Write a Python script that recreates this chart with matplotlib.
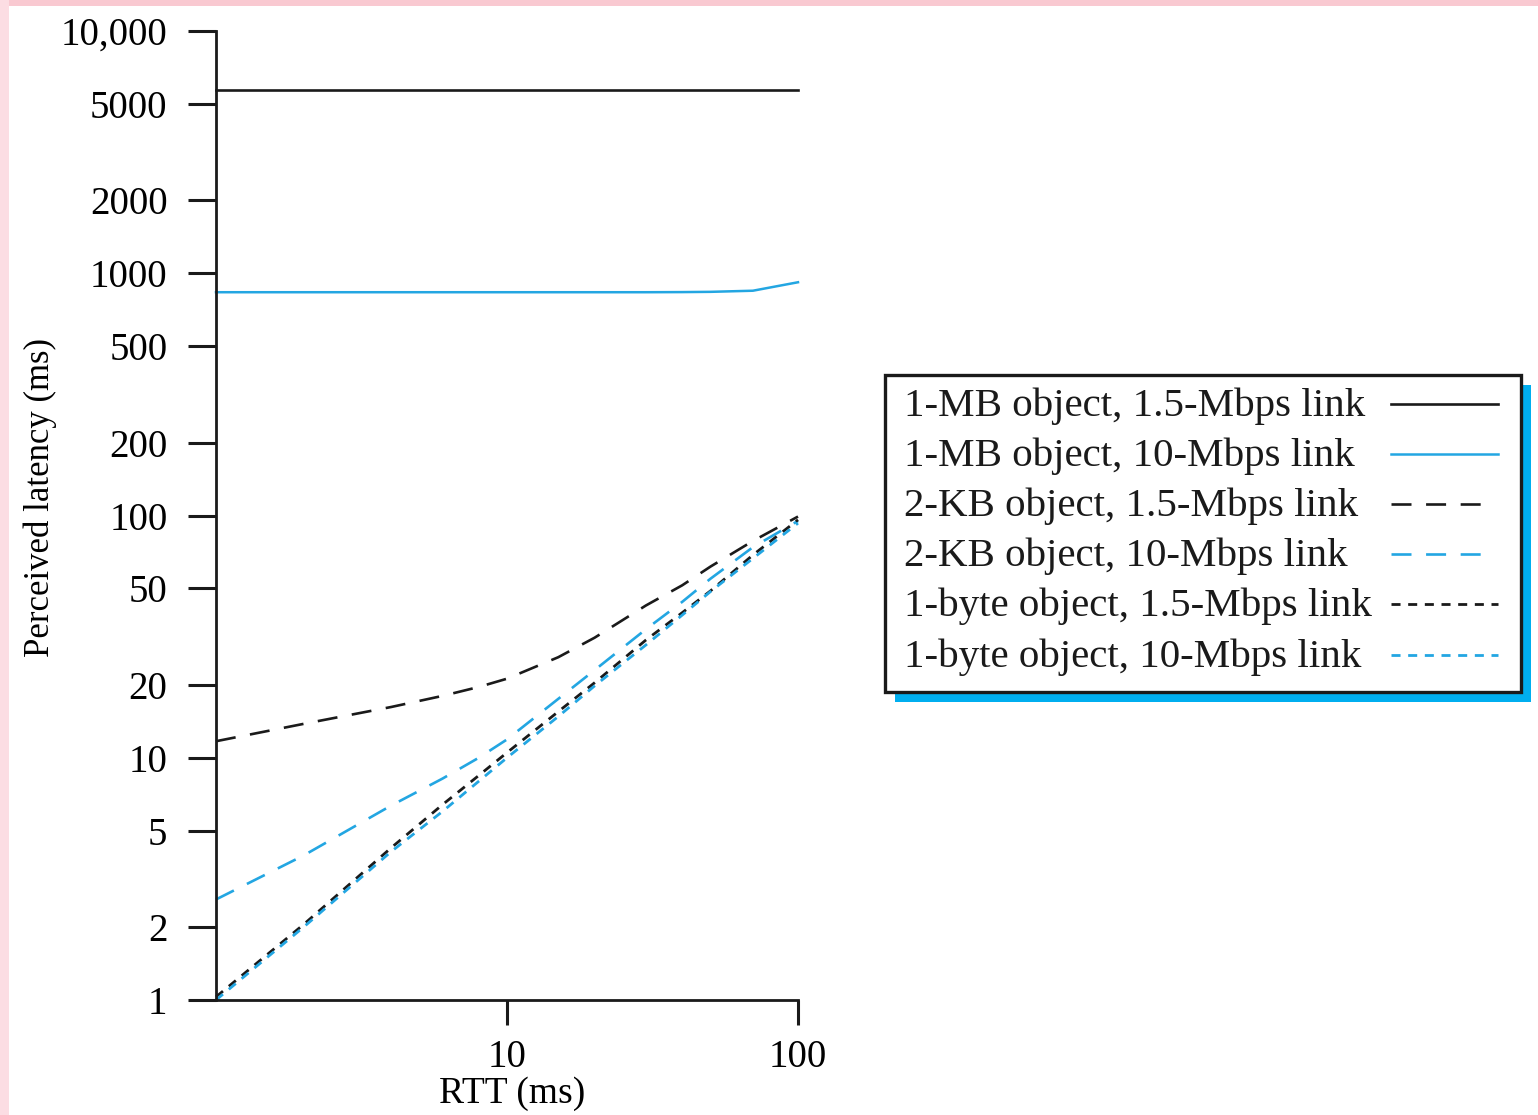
import matplotlib.pyplot as plt
from matplotlib.lines import Line2D
from matplotlib.patches import Rectangle
from matplotlib.ticker import NullLocator

# DATA
rtt = [1, 2, 4, 6, 8, 10, 15, 20, 30, 40, 50, 70, 100]
mb_15 = [5700, 5700, 5700, 5700, 5700, 5700, 5700, 5700, 5700, 5700, 5700, 5700, 5700]
mb_10 = [835, 835, 835, 835, 835, 835, 835, 835, 835, 836, 838, 847, 918]
kb_15 = [11.7, 13.8, 16.2, 18.0, 19.6, 21.2, 26.0, 31.3, 42.5, 51.5, 61.5, 78.5, 99]
kb_10 = [2.6, 3.95, 6.35, 8.2, 10.0, 11.9, 17.5, 23.0, 33.9, 44.0, 54.8, 74.0, 95]
b_15 = [1.03, 2.05, 4.25, 6.4, 8.45, 10.5, 15.5, 20.4, 30.6, 39.7, 48.8, 68.7, 96]
b_10 = [1.0, 2.0, 4.1, 6.0, 8.0, 10.0, 14.8, 19.8, 29.2, 38.8, 48.5, 66.5, 93]

labels = ["1-MB object, 1.5-Mbps link", "1-MB object, 10-Mbps link",
          "2-KB object, 1.5-Mbps link", "2-KB object, 10-Mbps link",
          "1-byte object, 1.5-Mbps link", "1-byte object, 10-Mbps link"]
series = [mb_15, mb_10, kb_15, kb_10, b_15, b_10]

y_ticks = [1, 2, 5, 10, 20, 50, 100, 200, 500, 1000, 2000, 5000, 10000]
y_tick_labels = ["1", "2", "5", "10", "20", "50", "100", "200", "500",
                 "1000", "2000", "5000", "10,000"]
x_ticks = [10, 100]
x_tick_labels = ["10", "100"]

#STYLE
BLACK = "#1a1a1a"
BLUE = "#23a6e2"
solid = "-"
long_dash = (0, (14.4, 10.5))
short_dash = (0, (6.5, 5.5))
colors = [BLACK, BLUE, BLACK, BLUE, BLACK, BLUE]
styles = [solid, solid, long_dash, long_dash, short_dash, short_dash]
widths = [1.9, 1.8, 1.9, 1.9, 2.0, 2.0]
handle_end = [1498, 1498, 1482, 1482, 1498, 1498]

W, H = 1538, 1115
plt.rcParams['font.family'] = ['Liberation Serif', 'DejaVu Serif']
plt.rcParams['lines.scale_dashes'] = False
plt.rcParams['text.color'] = BLACK

fig = plt.figure(figsize=(W / 100, H / 100), dpi=100)

#PINK SLIDE EDGES
fig.add_artist(Rectangle((0, 1 - 6 / H), 1, 6 / H, transform=fig.transFigure,
                         fc="#f9c9d1", ec="none"))
fig.add_artist(Rectangle((0, 0), 9 / W, 1, transform=fig.transFigure,
                         fc="#fcdde3", ec="none"))

ax = fig.add_axes([216 / W, 1 - 1000 / H, (798 - 216) / W, (1000 - 31) / H])
ax.set_facecolor("none")

for vals, c, ls, lw in zip(series, colors, styles, widths):
    ax.plot(rtt, vals, color=c, linestyle=ls, linewidth=lw, clip_on=False)

ax.set_xscale("log")
ax.set_yscale("log")
ax.set_xlim(1, 100)
ax.set_ylim(1, 10000)
ax.set_xticks(x_ticks, x_tick_labels)
ax.set_yticks(y_ticks, y_tick_labels)
ax.xaxis.set_minor_locator(NullLocator())
ax.yaxis.set_minor_locator(NullLocator())
ax.tick_params(axis="y", length=20, width=2.2, pad=15, labelsize=28, color=BLACK)
ax.tick_params(axis="x", length=18, width=2.2, pad=10, labelsize=28, color=BLACK)

for s in ["top", "right"]:
    ax.spines[s].set_visible(False)
for s in ["left", "bottom"]:
    ax.spines[s].set_linewidth(2.0)
    ax.spines[s].set_color(BLACK)

ax.set_xlabel("RTT (ms)", fontsize=27, va="center")
ax.xaxis.set_label_coords((512 - 216) / 582, (1000 - 1094) / 969)
ax.set_ylabel("Perceived latency (ms)", fontsize=25, va="center")
ax.yaxis.set_label_coords((40 - 216) / 582, (1000 - 497) / 969)

#LEGEND (text left, sample line right, blue drop shadow)
bx0, bx1, by0, by1 = 885, 1521, 375, 692
fig.add_artist(Rectangle(((bx0 + 10) / W, 1 - (by1 + 10) / H), (bx1 - bx0) / W,
                         (by1 - by0) / H, transform=fig.transFigure,
                         fc="#00aeef", ec="none"))
fig.add_artist(Rectangle((bx0 / W, 1 - by1 / H), (bx1 - bx0) / W, (by1 - by0) / H,
                         transform=fig.transFigure, fc="white", ec=BLACK, lw=2.4))
row_y = [404, 454, 504, 554, 604, 655]
for lab, c, ls, lw, yy, xe in zip(labels, colors, styles, widths, row_y, handle_end):
    fig.text(904 / W, 1 - (yy + 12) / H, lab, fontsize=29.5, va="baseline", ha="left")
    fig.add_artist(Line2D([1391 / W, xe / W], [1 - yy / H, 1 - yy / H],
                          transform=fig.transFigure, color=c, linestyle=ls,
                          linewidth=lw))

fig.savefig("out.png", dpi=100)
